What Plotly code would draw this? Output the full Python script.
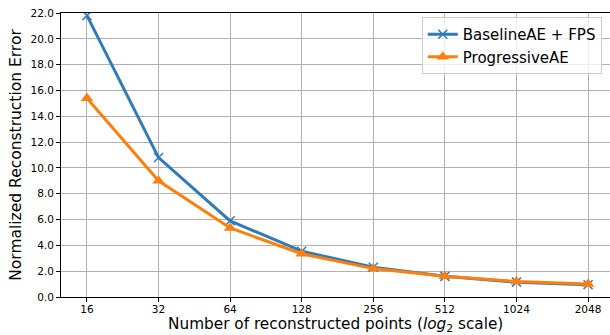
import plotly.graph_objects as go

points = [16, 32, 64, 128, 256, 512, 1024, 2048]
baseline_fps = [21.8, 10.8, 5.9, 3.55, 2.3, 1.6, 1.15, 0.95]
progressive = [15.4, 9.0, 5.35, 3.35, 2.2, 1.6, 1.2, 1.0]
tick_labels = [str(p) for p in points]
y_ticks = [0, 2, 4, 6, 8, 10, 12, 14, 16, 18, 20, 22]

BLUE = "#2f7ab8"
ORANGE = "#ff7f0e"

fig = go.Figure()
fig.add_trace(go.Scatter(
    x=points, y=baseline_fps, name="BaselineAE + FPS", mode="lines+markers",
    line=dict(color=BLUE, width=3),
    marker=dict(symbol="x-thin", size=9, line=dict(color=BLUE, width=1.5), color=BLUE),
))
fig.add_trace(go.Scatter(
    x=points, y=progressive, name="ProgressiveAE", mode="lines+markers",
    line=dict(color=ORANGE, width=3),
    marker=dict(symbol="triangle-up", size=11, color=ORANGE),
))

fig.update_layout(
    width=610, height=335,
    margin=dict(l=61, r=0, t=13, b=38),
    paper_bgcolor="white", plot_bgcolor="white",
    font=dict(family="DejaVu Sans", color="#000000", size=10.5),
    legend=dict(
        x=0.985, y=0.986, xanchor="right", yanchor="top",
        bgcolor="rgba(255,255,255,0.8)", bordercolor="#cccccc", borderwidth=1,
        font=dict(size=15, color="#000000"),
        tracegroupgap=0, itemwidth=30,
    ),
    showlegend=True,
    annotations=[dict(
        text="Number of reconstructed points (<i>log</i><sub>2</sub> scale)",
        xref="paper", yref="paper", x=0.5, y=-0.1, xanchor="center", yanchor="middle",
        showarrow=False, font=dict(size=15.3, color="#000000"),
    )],
)
fig.update_xaxes(
    type="log", range=[1.0949, 3.4037],
    tickvals=points, ticktext=tick_labels,
    showgrid=True, gridcolor="#b0b0b0", gridwidth=1,
    showline=True, linecolor="black", linewidth=1, mirror=True,
    ticks="outside", ticklen=4, tickcolor="black", ticklabelstandoff=-2,
    tickfont=dict(size=10.5, color="#000000"),
    zeroline=False,
)
fig.update_yaxes(
    range=[0, 22], tickvals=y_ticks, tickformat=".1f",
    showgrid=True, gridcolor="#b0b0b0", gridwidth=1,
    showline=True, linecolor="black", linewidth=1,
    ticks="outside", ticklen=4, tickcolor="black",
    tickfont=dict(size=10.5, color="#000000"),
    title=dict(text="Normalized Reconstruction Error", font=dict(size=15.5, color="#000000"), standoff=5),
    zeroline=False,
)

fig.write_html("out.html")
